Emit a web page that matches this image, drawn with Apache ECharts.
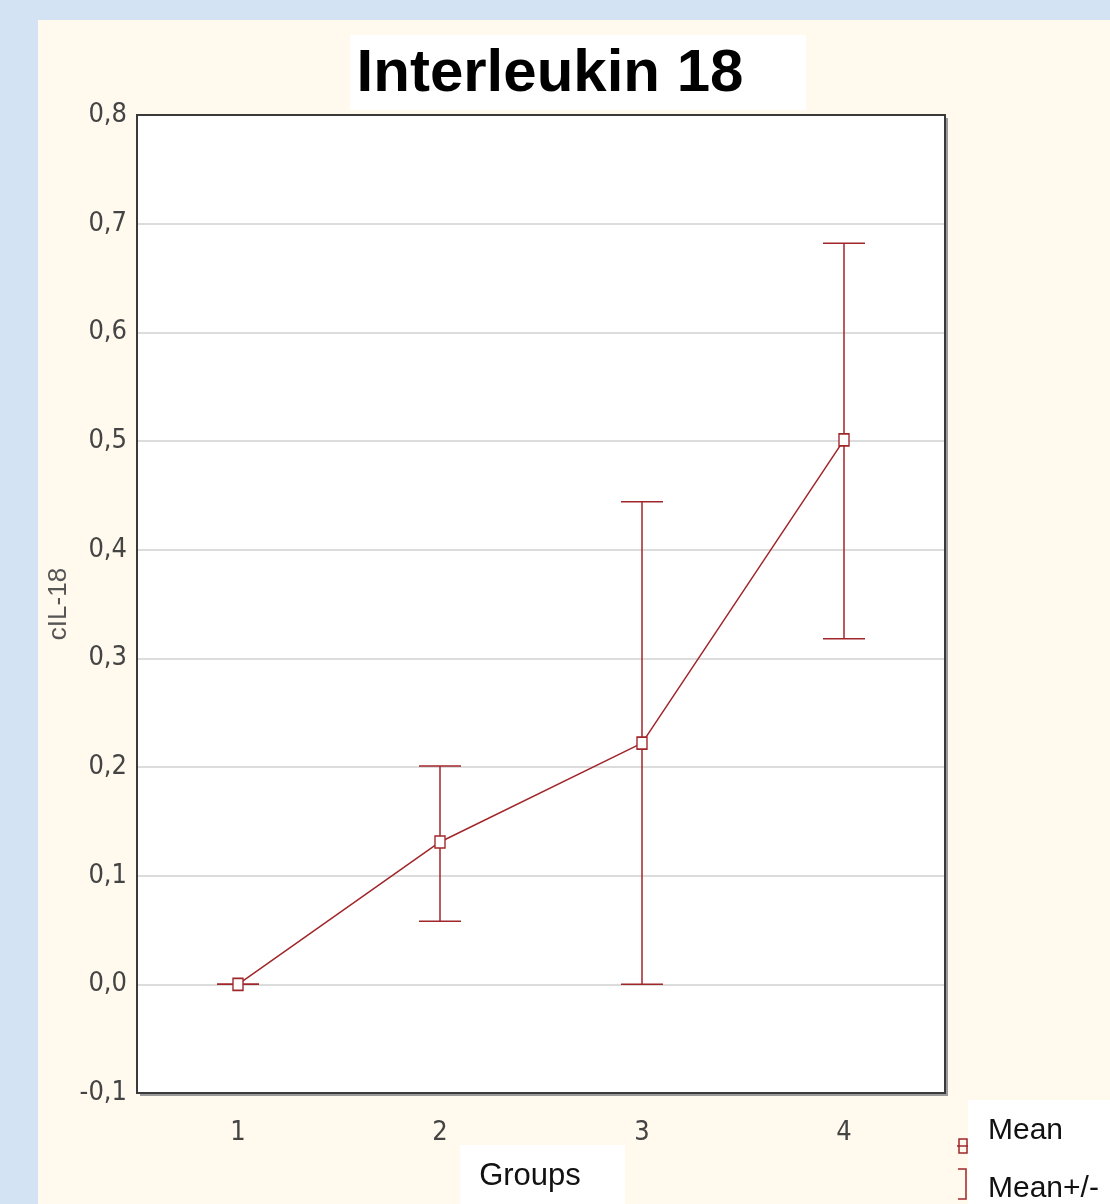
<!DOCTYPE html>
<html>
<head>
<meta charset="utf-8">
<title>Interleukin 18</title>
<script src="https://cdn.jsdelivr.net/npm/echarts@6/dist/echarts.min.js"></script>
<style>
	* { margin: 0; padding: 0 }
	html, body { width: 100%; height: 100%; background: #d3e3f4; }
	#main { width: 1110px; height: 1204px; }
</style>
</head>
<body>
<div id="main"></div>
<script type="text/javascript">
	// data
	var groups = ['1', '2', '3', '4'];
	var means = [0.0, 0.131, 0.222, 0.501];
	var lower = [0.0, 0.058, 0.0, 0.318];
	var upper = [0.0, 0.201, 0.444, 0.682];

	var red = '#a0262a';
	var narrow = "'Liberation Sans Narrow', 'DejaVu Sans Condensed', sans-serif";
	var arial = "'Liberation Sans', Arial, sans-serif";

	var errData = groups.map(function (g, i) { return [i, lower[i], upper[i]]; });

	var chart = echarts.init(document.getElementById('main'));
	chart.setOption({
		backgroundColor: '#d3e3f4',
		animation: false,
		grid: {
			left: 137, top: 115, width: 808, height: 978,
			show: true,
			backgroundColor: '#fff',
			borderWidth: 0
		},
		graphic: [
			{ type: 'rect', z: -100, shape: { x: 38, y: 20, width: 1072, height: 1184 }, style: { fill: '#fff9ee' } },
			{ type: 'rect', z: -50, shape: { x: 140, y: 118, width: 808, height: 978 }, style: { fill: '#9a9a9a' } },
			// plot frame, drawn above the grid lines
			{ type: 'rect', z: 50, shape: { x: 137, y: 115, width: 808, height: 978 }, style: { fill: 'none', stroke: '#3a3a3a', lineWidth: 2 } },
			{ type: 'rect', shape: { x: 350, y: 35, width: 456, height: 75 }, style: { fill: '#fff' } },
			{ type: 'text', x: 550, y: 74, style: { text: 'Interleukin 18', font: 'bold 60px ' + arial, fill: '#000', align: 'center', verticalAlign: 'middle' } },
			{ type: 'rect', shape: { x: 460, y: 1145, width: 165, height: 59 }, style: { fill: '#fff' } },
			{ type: 'text', x: 530, y: 1176, style: { text: 'Groups', font: '31px ' + arial, fill: '#111', align: 'center', verticalAlign: 'middle' } },
			{ type: 'rect', shape: { x: 968, y: 1100, width: 142, height: 104 }, style: { fill: '#fff' } },
			{ type: 'text', x: 988, y: 1131, style: { text: 'Mean', font: '30px ' + arial, fill: '#111', verticalAlign: 'middle' } },
			{ type: 'text', x: 988, y: 1189, style: { text: 'Mean+/-', font: '30px ' + arial, fill: '#111', verticalAlign: 'middle' } },
			{ type: 'rect', shape: { x: 959, y: 1139, width: 8, height: 14 }, style: { fill: 'none', stroke: red, lineWidth: 1.5 } },
			{ type: 'line', shape: { x1: 957, y1: 1146, x2: 968, y2: 1146 }, style: { stroke: red, lineWidth: 1.5 } },
			{ type: 'polyline', shape: { points: [[958, 1169], [966, 1169], [966, 1199], [958, 1199]] }, style: { fill: 'none', stroke: red, lineWidth: 1.5 } }
		],
		xAxis: [{
			type: 'category',
			data: groups,
			position: 'bottom',
			axisLine: { show: false },
			axisTick: { inside: true, alignWithLabel: true, length: 7, lineStyle: { color: '#333', width: 2 } },
			axisLabel: { fontSize: 27, fontFamily: narrow, color: '#444', margin: 26 },
			splitLine: { show: false }
		}, {
			type: 'category',
			data: groups,
			position: 'top',
			axisLine: { show: false },
			axisTick: { inside: true, alignWithLabel: true, length: 7, lineStyle: { color: '#333', width: 2 } },
			axisLabel: { show: false },
			splitLine: { show: false }
		}],
		yAxis: [{
			type: 'value',
			min: -0.1, max: 0.8, interval: 0.1,
			position: 'left',
			name: 'cIL-18',
			nameLocation: 'middle',
			nameGap: 65,
			nameMoveOverlap: false,
			nameTextStyle: { fontSize: 26, fontFamily: arial, color: '#555' },
			axisLine: { show: false },
			axisTick: { inside: true, length: 7, lineStyle: { color: '#333', width: 2 } },
			axisLabel: {
				fontSize: 27, fontFamily: narrow, color: '#444', margin: 10,
				formatter: function (v) { return v.toFixed(1).replace('.', ','); }
			},
			splitLine: { show: true, showMinLine: false, showMaxLine: false, lineStyle: { color: '#dcdcdc', width: 2 } }
		}, {
			type: 'value',
			min: -0.1, max: 0.8, interval: 0.1,
			position: 'right',
			axisLine: { show: false },
			axisTick: { inside: true, length: 7, lineStyle: { color: '#333', width: 2 } },
			axisLabel: { show: false },
			splitLine: { show: false }
		}],
		series: [{
			type: 'custom',
			name: 'Mean+/-',
			data: errData,
			z: 3,
			renderItem: function (params, api) {
				var x = api.value(0);
				var lo = api.coord([x, api.value(1)]);
				var hi = api.coord([x, api.value(2)]);
				var half = 21;
				var st = { stroke: red, lineWidth: 1.5 };
				return {
					type: 'group',
					children: [
						{ type: 'line', shape: { x1: hi[0], y1: hi[1], x2: lo[0], y2: lo[1] }, style: st },
						{ type: 'line', shape: { x1: hi[0] - half, y1: hi[1], x2: hi[0] + half, y2: hi[1] }, style: st },
						{ type: 'line', shape: { x1: lo[0] - half, y1: lo[1], x2: lo[0] + half, y2: lo[1] }, style: st }
					]
				};
			}
		}, {
			type: 'line',
			name: 'Mean',
			data: means,
			z: 4,
			symbol: 'rect',
			symbolSize: [10, 12],
			showAllSymbol: true,
			lineStyle: { color: red, width: 1.5 },
			itemStyle: { color: '#fff', borderColor: red, borderWidth: 1.5 }
		}]
	});
</script>
</body>
</html>
